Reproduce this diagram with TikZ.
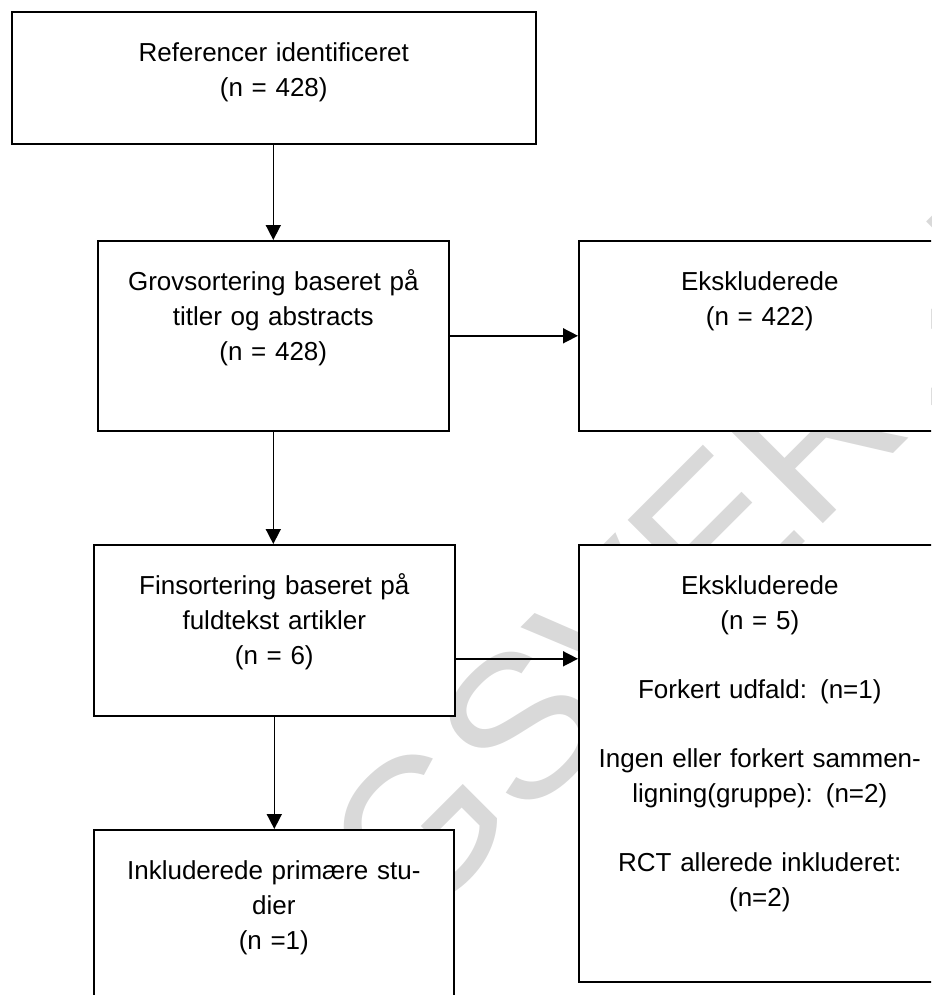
\documentclass[tikz,border=0pt]{standalone}
\usepackage{fontspec}
\setmainfont{Liberation Sans}
\usepackage{tikz}
\usetikzlibrary{arrows.meta}
\tikzstyle{boks} = [rectangle, draw=black, line width=1.6pt, fill=white, anchor=north west, inner sep=0pt, text height=50pt, align=center, font=\fontsize{26}{34.6}\selectfont]
\tikzstyle{pil} = [line width=1.6pt, -{Triangle[length=15pt, width=15pt]}]

\begin{document}
\begin{tikzpicture}[x=1pt, y=-1pt]
    \clip (0,0) rectangle (931,995);
    \node (vandmaerke) [rotate=45, anchor=base, text=black!15, font=\fontsize{204}{204}\selectfont] at (607.5,739.5) {HØRINGSVERSION};

    \node (ref) [boks, text width=524pt, text depth=82pt] at (11,11) {Referencer identificeret\\(n = 428)};
    \node (grov) [boks, text width=351pt, text depth=140pt] at (97,240) {Grovsortering baseret på\\titler og abstracts\\(n = 428)};
    \node (eks1) [boks, text width=362pt, text depth=140pt] at (578,240) {Ekskluderede\\(n = 422)};
    \node (fin) [boks, text width=361pt, text depth=121pt] at (93,544) {Finsortering baseret på\\fuldtekst artikler\\(n = 6)};
    \node (eks2) [boks, text width=362pt, text depth=387pt] at (578,544) {Ekskluderede\\(n = 5)\\[34.6pt]Forkert udfald: (n=1)\\[34.6pt]Ingen eller forkert sammen-\\ligning(gruppe): (n=2)\\[34.6pt]RCT allerede inkluderet:\\(n=2)};
    \node (inkl) [boks, text width=360pt, text depth=140pt] at (93,829) {Inkluderede primære stu-\\dier\\(n =1)};

    \coordinate (finud) at ([yshift=-28.5pt]fin.east);

    \draw[pil] (ref.south -| grov.north) -- (grov.north);
    \draw[pil] (grov.east) -- (eks1.west);
    \draw[pil] (grov.south) -- (grov.south |- fin.north);
    \draw[pil] (finud) -- (finud -| eks2.west);
    \draw[pil] (fin.south) -- (fin.south |- inkl.north);
\end{tikzpicture}
\end{document}
